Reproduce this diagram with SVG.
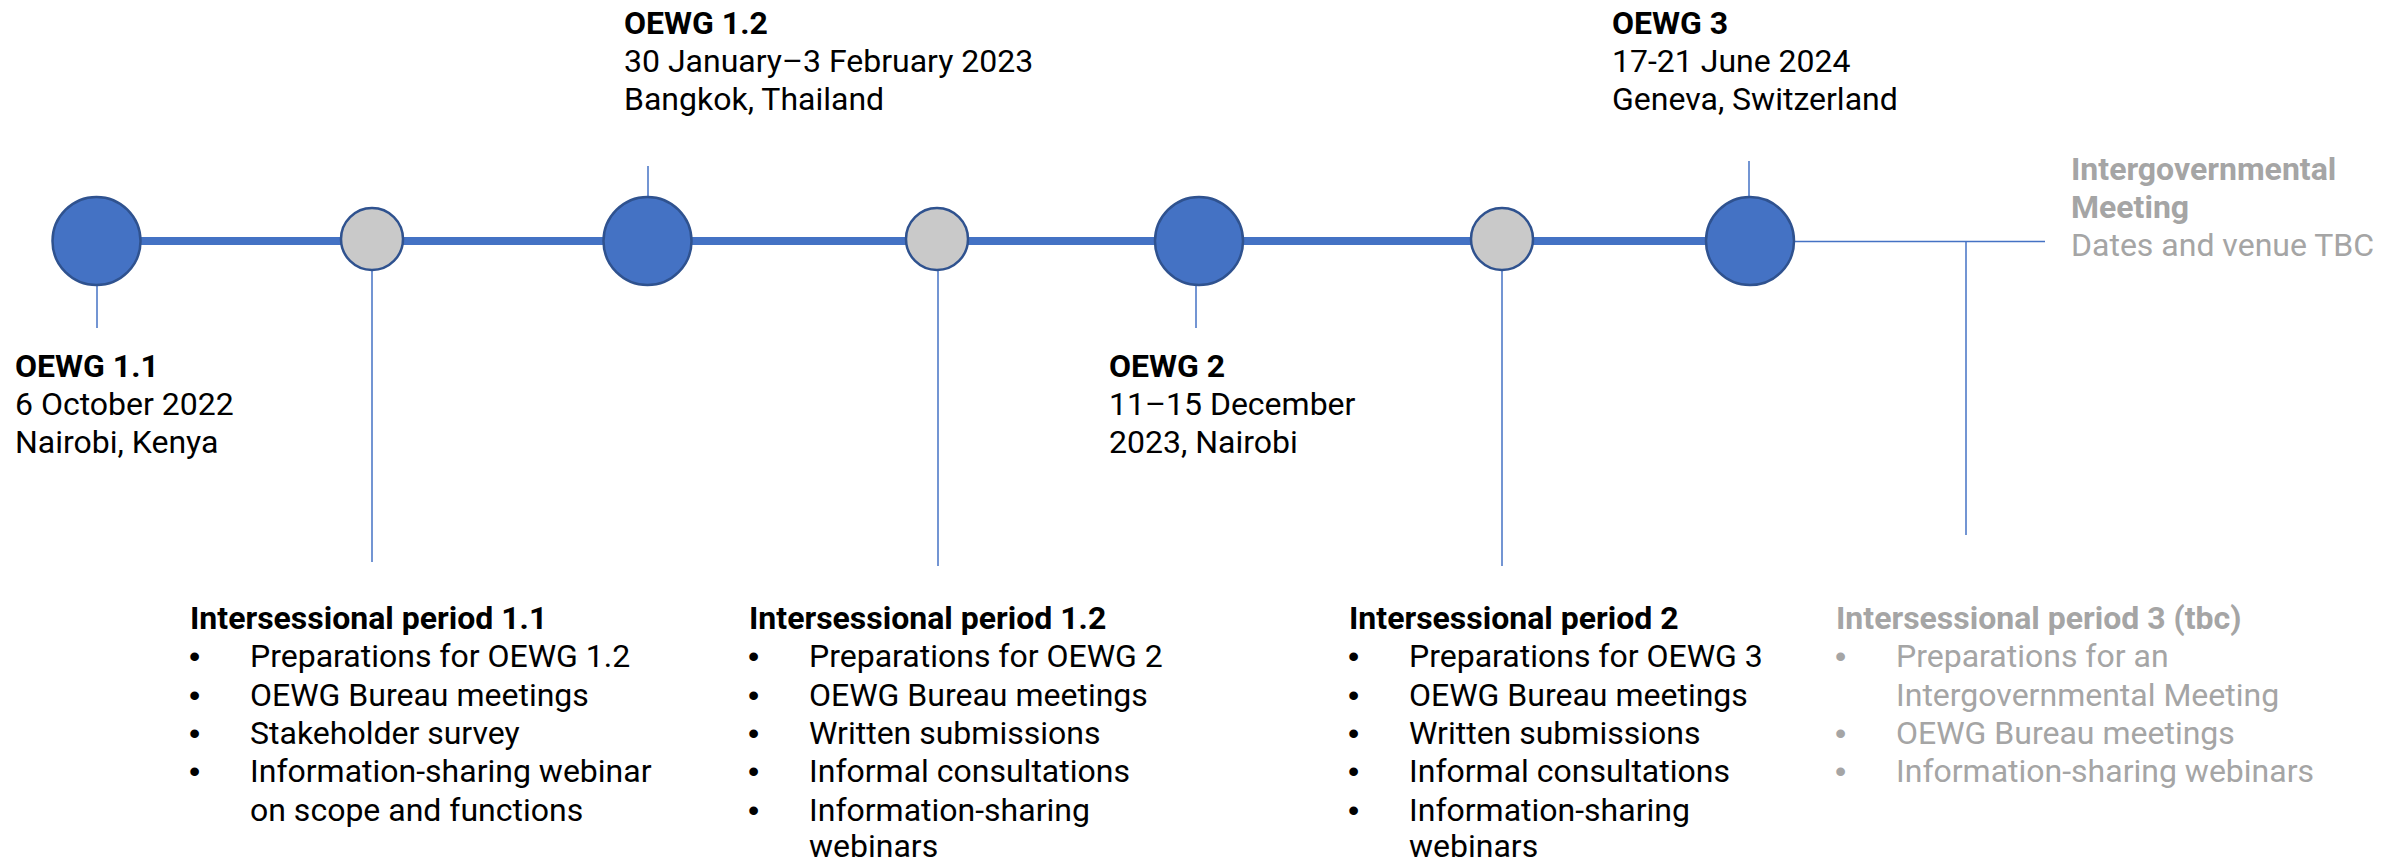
<svg xmlns="http://www.w3.org/2000/svg" width="2402" height="862" viewBox="0 0 2402 862">
<style>
text{font-family:Roboto,"Liberation Sans",sans-serif;font-size:32px;fill:#000}
.b{font-weight:700}
.g{fill:#A5A5A5}
.bu{font-family:"Liberation Sans",Arial,sans-serif}
.thin{stroke:#4472C4;stroke-width:1.5;fill:none}
.main{fill:#4472C4;stroke:#2F528F;stroke-width:2.5}
.mid{fill:#C9C9C9;stroke:#2F528F;stroke-width:2.5}
</style>
<rect width="2402" height="862" fill="#fff"/>
<g id="connectors">
<line x1="96" y1="241" x2="1750" y2="241" stroke="#4472C4" stroke-width="8"/>
<line class="thin" x1="1790" y1="241.5" x2="2045" y2="241.5"/>
<line class="thin" x1="1966" y1="241.5" x2="1966" y2="535"/>
<line class="thin" x1="97" y1="285" x2="97" y2="328"/>
<line class="thin" x1="372" y1="271" x2="372" y2="562"/>
<line class="thin" x1="648" y1="166" x2="648" y2="197"/>
<line class="thin" x1="938" y1="271" x2="938" y2="566"/>
<line class="thin" x1="1196" y1="285" x2="1196" y2="328"/>
<line class="thin" x1="1502" y1="271" x2="1502" y2="566"/>
<line class="thin" x1="1749" y1="161" x2="1749" y2="197"/>
</g>
<g id="oewg11">
<circle class="main" cx="96.5" cy="241" r="44"/>
<text x="15" y="377" class="b">OEWG 1.1</text>
<text x="15" y="415">6 October 2022</text>
<text x="15" y="453">Nairobi, Kenya</text>
</g>
<g id="ip11">
<circle class="mid" cx="372" cy="239" r="31"/>
<text x="190" y="629" class="b">Intersessional period 1.1</text>
<text x="189" y="667" class="bu">•</text><text x="250" y="667">Preparations for OEWG 1.2</text>
<text x="189" y="706" class="bu">•</text><text x="250" y="706">OEWG Bureau meetings</text>
<text x="189" y="744" class="bu">•</text><text x="250" y="744">Stakeholder survey</text>
<text x="189" y="782" class="bu">•</text><text x="250" y="782">Information-sharing webinar</text>
<text x="250" y="821">on scope and functions</text>
</g>
<g id="oewg12">
<circle class="main" cx="647.5" cy="241" r="44"/>
<text x="624" y="34" class="b">OEWG 1.2</text>
<text x="624" y="72">30 January–3 February 2023</text>
<text x="624" y="110">Bangkok, Thailand</text>
</g>
<g id="ip12">
<circle class="mid" cx="937" cy="239" r="31"/>
<text x="749" y="629" class="b">Intersessional period 1.2</text>
<text x="748" y="667" class="bu">•</text><text x="809" y="667">Preparations for OEWG 2</text>
<text x="748" y="706" class="bu">•</text><text x="809" y="706">OEWG Bureau meetings</text>
<text x="748" y="744" class="bu">•</text><text x="809" y="744">Written submissions</text>
<text x="748" y="782" class="bu">•</text><text x="809" y="782">Informal consultations</text>
<text x="748" y="821" class="bu">•</text><text x="809" y="821">Information-sharing</text>
<text x="809" y="857">webinars</text>
</g>
<g id="oewg2">
<circle class="main" cx="1199" cy="241" r="44"/>
<text x="1109" y="377" class="b">OEWG 2</text>
<text x="1109" y="415">11–15 December</text>
<text x="1109" y="453">2023, Nairobi</text>
</g>
<g id="ip2">
<circle class="mid" cx="1502" cy="239" r="31"/>
<text x="1349" y="629" class="b">Intersessional period 2</text>
<text x="1348" y="667" class="bu">•</text><text x="1409" y="667">Preparations for OEWG 3</text>
<text x="1348" y="706" class="bu">•</text><text x="1409" y="706">OEWG Bureau meetings</text>
<text x="1348" y="744" class="bu">•</text><text x="1409" y="744">Written submissions</text>
<text x="1348" y="782" class="bu">•</text><text x="1409" y="782">Informal consultations</text>
<text x="1348" y="821" class="bu">•</text><text x="1409" y="821">Information-sharing</text>
<text x="1409" y="857">webinars</text>
</g>
<g id="oewg3">
<circle class="main" cx="1750" cy="241" r="44"/>
<text x="1612" y="34" class="b">OEWG 3</text>
<text x="1612" y="72">17-21 June 2024</text>
<text x="1612" y="110">Geneva, Switzerland</text>
</g>
<g id="igm">
<text x="2071" y="180" class="b g">Intergovernmental</text>
<text x="2071" y="218" class="b g">Meeting</text>
<text x="2071" y="256" class="g">Dates and venue TBC</text>
</g>
<g id="ip3">
<text x="1836" y="629" class="b g">Intersessional period 3 (tbc)</text>
<text x="1835" y="667" class="g bu">•</text><text x="1896" y="667" class="g">Preparations for an</text>
<text x="1896" y="706" class="g">Intergovernmental Meeting</text>
<text x="1835" y="744" class="g bu">•</text><text x="1896" y="744" class="g">OEWG Bureau meetings</text>
<text x="1835" y="782" class="g bu">•</text><text x="1896" y="782" class="g">Information-sharing webinars</text>
</g>
</svg>
